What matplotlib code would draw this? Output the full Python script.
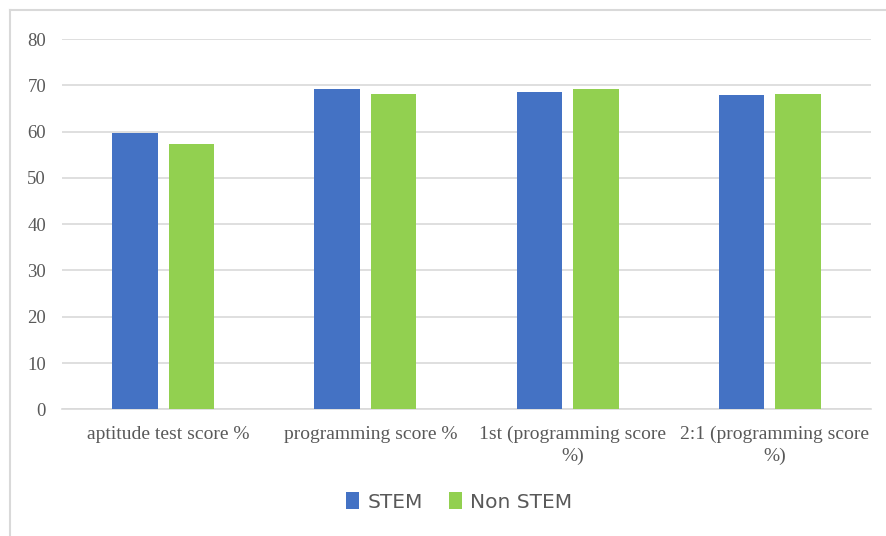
import matplotlib.pyplot as plt
import matplotlib.lines as mlines
import matplotlib.transforms as mtransforms
import numpy as np

# scores by group
categories = ["aptitude test score %", "programming score %",
              "1st (programming score\n%)", "2:1 (programming score\n%)"]
stem = [59.7, 69.2, 68.6, 67.9]
non_stem = [57.4, 68.1, 69.2, 68.1]
series_names = ["STEM", "Non STEM"]
yticks = [0, 10, 20, 30, 40, 50, 60, 70, 80]

blue = "#4472C4"
green = "#92D050"
grid = "#D9D9D9"
txt = "#595959"

W, H = 887, 536
fig = plt.figure(figsize=(W / 100, H / 100), dpi=100)
ax = fig.add_axes([62 / W, 1 - 409.3 / H, (871 - 62) / W, (409.3 - 39) / H])

x = np.arange(len(categories))
w = 0.225
off = 0.14
ax.bar(x - off, stem, w, color=blue, label=series_names[0], zorder=3)
ax.bar(x + off, non_stem, w, color=green, label=series_names[1], zorder=3)

ax.set_xlim(-0.5, len(categories) - 0.5)
ax.set_ylim(0, 80)
ax.set_yticks(yticks)
ax.yaxis.grid(True, color=grid, linewidth=1.2, zorder=0)
for s in ["top", "right", "left"]:
    ax.spines[s].set_visible(False)
ax.spines["bottom"].set_color(grid)
ax.spines["bottom"].set_linewidth(1.2)
ax.tick_params(length=0)
ax.tick_params(axis="y", pad=11.5)
ax.tick_params(axis="x", pad=12)

ax.set_xticks(x)
ax.set_xticklabels(categories, fontfamily="Liberation Serif", fontsize=14,
                   color=txt, linespacing=1.3)
shift = mtransforms.ScaledTranslation(0.05, 0, fig.dpi_scale_trans)
for lab in ax.get_xticklabels():
    lab.set_transform(lab.get_transform() + shift)
for lab in ax.get_yticklabels():
    lab.set_fontfamily("Liberation Serif")
    lab.set_fontsize(13.5)
    lab.set_color(txt)

fig.legend(loc="center", bbox_to_anchor=(459 / W, 1 - 502 / H), ncol=2,
           frameon=False, prop={"family": ["Liberation Sans Narrow", "DejaVu Sans"], "size": 14.5},
           labelcolor=txt, handlelength=0.65, handleheight=0.9, handletextpad=0.4,
           columnspacing=1.3)

# outer chart border
fig.add_artist(mlines.Line2D([10 / W, 1], [1 - 9.5 / H, 1 - 9.5 / H],
                             transform=fig.transFigure, color=grid, linewidth=1.5))
fig.add_artist(mlines.Line2D([10 / W, 10 / W], [0, 1 - 9.5 / H],
                             transform=fig.transFigure, color=grid, linewidth=1.5))

fig.savefig("out.png", dpi=100)
